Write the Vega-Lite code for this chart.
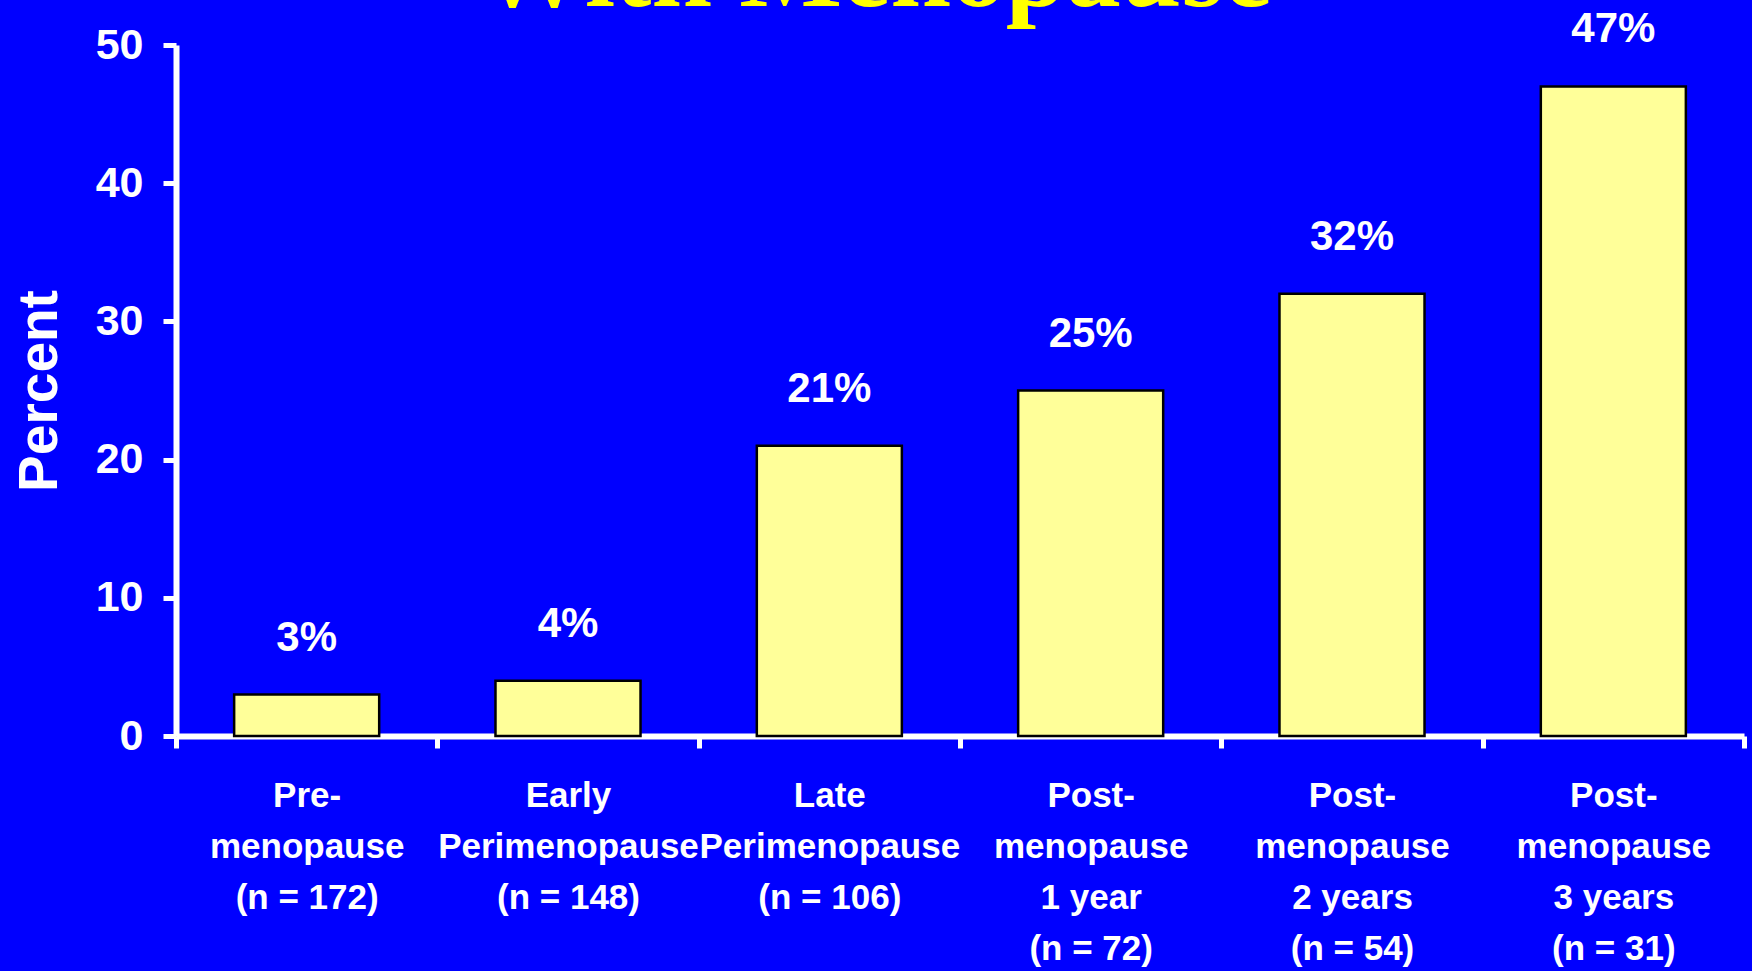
{
  "$schema": "https://vega.github.io/schema/vega-lite/v6.json",
  "autosize": {"type": "none"},
  "width": 1568,
  "height": 691,
  "padding": {"left": 176, "top": 45, "right": 8, "bottom": 235},
  "background": "#0000FF",
  "title": {
    "text": "With Menopause",
    "font": "Liberation Serif",
    "fontWeight": "bold",
    "fontSize": 109,
    "color": "#FFFF00",
    "anchor": "middle",
    "baseline": "alphabetic",
    "dx": -85,
    "dy": 107,
    "offset": 0
  },
  "data": {
    "values": [
      {"stage": "Pre-|menopause|(n = 172)", "percent": 3, "label": "3%"},
      {"stage": "Early|Perimenopause|(n = 148)", "percent": 4, "label": "4%"},
      {"stage": "Late|Perimenopause|(n = 106)", "percent": 21, "label": "21%"},
      {"stage": "Post-|menopause|1 year|(n = 72)", "percent": 25, "label": "25%"},
      {"stage": "Post-|menopause|2 years|(n = 54)", "percent": 32, "label": "32%"},
      {"stage": "Post-|menopause|3 years|(n = 31)", "percent": 47, "label": "47%"}
    ]
  },
  "encoding": {
    "x": {
      "field": "stage",
      "type": "nominal",
      "sort": null,
      "scale": {"paddingInner": 0, "paddingOuter": 0},
      "axis": {
        "title": null,
        "labelAngle": 0,
        "labelExpr": "datum.value ? split(datum.value, '|') : ''",
        "labelFont": "Liberation Sans",
        "labelFontWeight": "bold",
        "labelFontSize": 35,
        "labelLineHeight": 51,
        "labelLimit": 0,
        "labelColor": "white",
        "labelPadding": 30,
        "labelBaseline": "top",
        "tickBand": "extent",
        "tickSize": 12,
        "tickWidth": 5,
        "tickColor": "white",
        "domainColor": "white",
        "domainWidth": 6,
        "grid": false
      }
    },
    "y": {
      "field": "percent",
      "type": "quantitative",
      "scale": {"domain": [0, 50], "nice": false},
      "axis": {
        "title": "Percent",
        "titleFont": "Liberation Sans",
        "titleFontWeight": "bold",
        "titleFontSize": 55,
        "titleColor": "white",
        "titlePadding": 27,
        "values": [0, 10, 20, 30, 40, 50],
        "labelFont": "Liberation Sans",
        "labelFontWeight": "bold",
        "labelFontSize": 43,
        "labelColor": "white",
        "labelPadding": 20,
        "tickSize": 13,
        "tickWidth": 5,
        "tickColor": "white",
        "domainColor": "white",
        "domainWidth": 6,
        "grid": false
      }
    }
  },
  "layer": [
    {
      "mark": {"type": "bar", "fill": "#FFFF99", "stroke": "black", "strokeWidth": 2.5, "width": {"band": 0.555}}
    },
    {
      "mark": {
        "type": "text",
        "font": "Liberation Sans",
        "fontWeight": "bold",
        "fontSize": 42,
        "color": "white",
        "baseline": "alphabetic",
        "dy": -44
      },
      "encoding": {"text": {"field": "label"}}
    }
  ],
  "config": {"view": {"stroke": null}}
}
